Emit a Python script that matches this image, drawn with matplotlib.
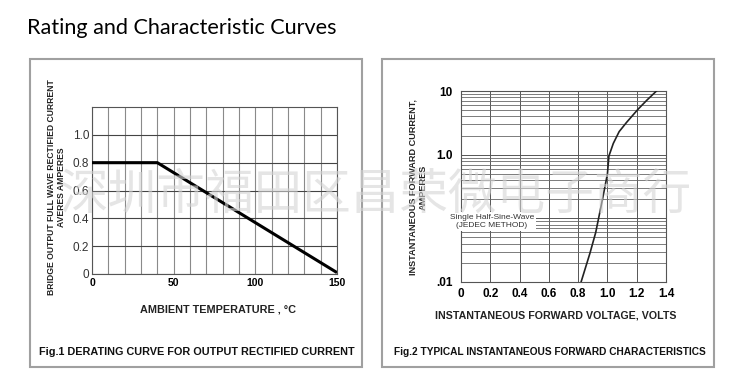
import numpy as np
import matplotlib
matplotlib.use("Agg")
import matplotlib.pyplot as plt
from matplotlib.patches import Rectangle
from matplotlib.ticker import MultipleLocator, LogLocator, NullFormatter

# page size in pixels
W, H = 747, 377

# fig.1 derating curve
temp_c = [0, 40, 150]
current_a = [0.8, 0.8, 0.01]
temp_ticks = [0, 50, 100, 150]
cur_ticks = [0, 0.2, 0.4, 0.6, 0.8, 1.0]
cur_tick_labels = ["0", "0.2", "0.4", "0.6", "0.8", "1.0"]

# fig.2 forward characteristics
volts = [0.82, 0.88, 0.92, 0.97, 1.00, 1.01, 1.04, 1.08, 1.13, 1.21, 1.27, 1.335]
amps = [0.01, 0.028, 0.06, 0.22, 0.5, 0.95, 1.5, 2.3, 3.2, 5.2, 7.2, 10]
volt_ticks = [0, 0.2, 0.4, 0.6, 0.8, 1.0, 1.2, 1.4]
volt_tick_labels = ["0", "0.2", "0.4", "0.6", "0.8", "1.0", "1.2", "1.4"]
amp_ticks = [0.01, 0.1, 1, 10]
amp_tick_labels = [".01", "", "1.0", "10"]

watermark = "深圳市福田区昌荣微电子商行"

plt.rcParams['font.family'] = ['Liberation Sans', 'DejaVu Sans']


def fx(px):
    return px / W


def fy(py):
    return 1 - py / H


def ax_rect(x0, y0, x1, y1):
    # pixel box -> figure fraction [left, bottom, width, height]
    return [fx(x0), fy(y1), (x1 - x0) / W, (y1 - y0) / H]


fig = plt.figure(figsize=(W / 100, H / 100), dpi=100)
fig.patch.set_facecolor("white")

# panel frames
for x0 in (30, 382):
    fig.patches.append(Rectangle((fx(x0), fy(367)), 332 / W, 308 / H,
                                 transform=fig.transFigure, fill=False,
                                 edgecolor="#a0a0a0", linewidth=1.5))

fig.text(fx(27), fy(28), "Rating and Characteristic Curves", fontsize=15.6,
         family="Lato", ha="left", va="center", color="black")

# ---- fig.1
ax1 = fig.add_axes(ax_rect(92, 107, 337, 274))
ax1.plot(temp_c, current_a, color="black", lw=2.2, solid_capstyle="butt", zorder=3)
ax1.set_xlim(0, 150)
ax1.set_ylim(0, 1.2)
ax1.set_xticks(temp_ticks)
ax1.xaxis.set_minor_locator(MultipleLocator(10))
ax1.set_yticks(cur_ticks)
ax1.set_yticklabels(cur_tick_labels)
ax1.grid(which="both", axis="x", color="#8a8a8a", lw=0.8)
ax1.grid(which="major", axis="y", color="#444444", lw=0.8)
ax1.tick_params(which="both", length=0)
ax1.tick_params(axis="x", pad=3, labelsize=7.5)
ax1.tick_params(axis="y", pad=2, labelsize=8.5, labelcolor="#333333")
for lab in ax1.get_xticklabels():
    lab.set_fontweight("bold")
for s in ax1.spines.values():
    s.set_color("#555555")
    s.set_linewidth(0.8)

fig.text(fx(56.5), fy(187), "BRIDGE OUTPUT FULL WAVE RECTIFIED CURRENT\nAVERES AMPERES",
         rotation=90, fontsize=6.2, fontweight="bold", ha="center", va="center",
         multialignment="center", linespacing=1.25, color="#222222")
fig.text(fx(218), fy(310), "AMBIENT TEMPERATURE , °C", fontsize=7.8,
         fontweight="bold", ha="center", va="center", color="#222222")
fig.text(fx(196.5), fy(352), "Fig.1 DERATING CURVE FOR OUTPUT RECTIFIED CURRENT",
         fontsize=7.8, fontweight="bold", ha="center", va="center", color="#111111")

# ---- fig.2
ax2 = fig.add_axes(ax_rect(461, 91, 666, 282))
ax2.plot(volts, amps, color="#222222", lw=1.2, zorder=3)
ax2.set_yscale("log")
ax2.set_xlim(0, 1.4)
ax2.set_ylim(0.01, 10)
ax2.set_xticks(volt_ticks)
ax2.set_xticklabels(volt_tick_labels)
ax2.set_yticks(amp_ticks)
ax2.set_yticklabels(amp_tick_labels)
ax2.yaxis.set_minor_locator(LogLocator(base=10, subs=np.arange(2, 10)))
ax2.yaxis.set_minor_formatter(NullFormatter())
ax2.grid(which="major", color="#555555", lw=0.7)
ax2.grid(which="minor", color="#666666", lw=0.6)
ax2.tick_params(which="both", length=0)
ax2.tick_params(axis="x", pad=4, labelsize=8.5)
ax2.tick_params(axis="y", pad=6, labelsize=8.5)
for lab in ax2.get_xticklabels() + ax2.get_yticklabels():
    lab.set_fontweight("bold")
for s in ax2.spines.values():
    s.set_color("#555555")
    s.set_linewidth(0.8)

ax2.text(0.21, 0.09, "Single Half-Sine-Wave\n(JEDEC METHOD)", fontsize=6,
         ha="center", va="center", color="#333333", multialignment="center",
         bbox=dict(facecolor="white", edgecolor="none", pad=1.5), zorder=4,
         clip_on=False)

fig.text(fx(418), fy(187), "INSTANTANEOUS FORWARD CURRENT,\nAMPERES",
         rotation=90, fontsize=6.6, fontweight="bold", ha="center", va="center",
         multialignment="center", linespacing=1.1, color="#222222")
fig.text(fx(556), fy(315), "INSTANTANEOUS FORWARD VOLTAGE, VOLTS", fontsize=7.7,
         fontweight="bold", ha="center", va="center", color="#222222")
fig.text(fx(550), fy(352), "Fig.2 TYPICAL INSTANTANEOUS FORWARD CHARACTERISTICS",
         fontsize=7.3, fontweight="bold", ha="center", va="center", color="#111111")

# watermark over everything
fig.text(fx(375), fy(195), watermark, fontsize=35,
         family=["Noto Sans CJK SC", "DejaVu Sans"], color="#d4d4d4", alpha=0.6,
         ha="center", va="center", zorder=10)

fig.savefig("out.png", dpi=100)
